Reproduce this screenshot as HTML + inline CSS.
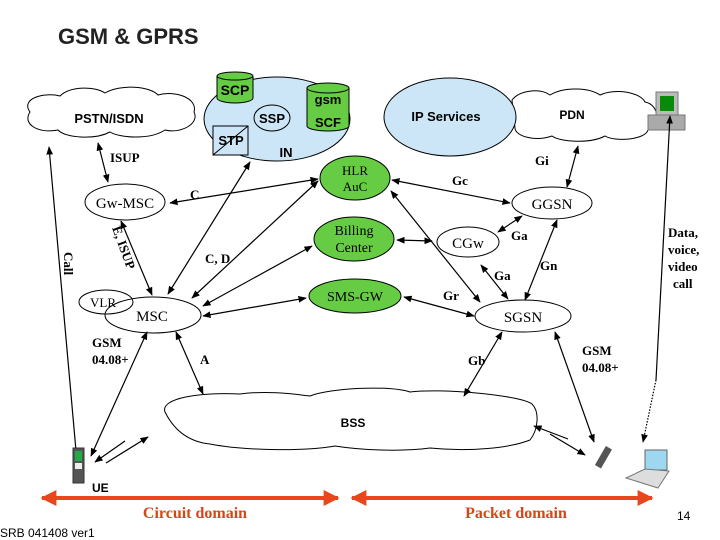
<!DOCTYPE html>
<html><head><meta charset="utf-8"><style>
html,body{margin:0;padding:0;background:#fff;width:720px;height:540px;overflow:hidden}
svg{display:block}
.s{font-family:"Liberation Sans",sans-serif;font-weight:bold}
.r{font-family:"Liberation Serif",serif}
</style></head><body>
<svg width="720" height="540" viewBox="0 0 720 540" xmlns="http://www.w3.org/2000/svg">
<defs>
<marker id="a" viewBox="0 0 10 10" refX="9" refY="5" markerWidth="7" markerHeight="7" orient="auto-start-reverse"><path d="M0,1 L10,5 L0,9 z" fill="#000"/></marker>
<marker id="ra" viewBox="0 0 10 10" refX="9" refY="5" markerWidth="4" markerHeight="4" orient="auto-start-reverse"><path d="M0,0 L10,5 L0,10 z" fill="#e8461c"/></marker>
</defs>
<text x="58" y="44" class="s" font-size="22" fill="#222">GSM &amp; GPRS</text>

<path d="M30,112 C20,98 45,92 60,96 C70,86 95,86 105,93 C120,84 150,86 158,95 C175,90 198,98 194,112 C200,124 180,134 165,130 C150,140 120,138 110,132 C95,140 65,138 58,130 C38,134 22,124 30,112 Z" fill="#fff" stroke="#000"/>
<text x="109" y="123" class="s" font-size="13" text-anchor="middle">PSTN/ISDN</text>

<ellipse cx="277" cy="119" rx="73" ry="42" fill="#cce6f7" stroke="#000"/>
<path d="M217,76 v22 a18,5 0 0 0 36,0 v-22" fill="#66cc44" stroke="#000"/>
<ellipse cx="235" cy="76" rx="18" ry="4" fill="#66cc44" stroke="#000"/>
<text x="235" y="95" class="s" font-size="14" text-anchor="middle">SCP</text>
<ellipse cx="272" cy="118" rx="18" ry="13" fill="#cce6f7" stroke="#000"/>
<text x="272" y="123" class="s" font-size="13" text-anchor="middle">SSP</text>
<path d="M307,88 v38 a21,5 0 0 0 42,0 v-38" fill="#66cc44" stroke="#000"/>
<ellipse cx="328" cy="88" rx="21" ry="5" fill="#66cc44" stroke="#000"/>
<text x="328" y="104" class="s" font-size="13" text-anchor="middle">gsm</text>
<text x="328" y="127" class="s" font-size="13" text-anchor="middle">SCF</text>
<rect x="213" y="126" width="35" height="29" fill="#cce6f7" stroke="#000"/>
<line x1="213" y1="155" x2="248" y2="126" stroke="#000"/>
<text x="231" y="145" class="s" font-size="13" text-anchor="middle">STP</text>
<text x="286" y="157" class="s" font-size="13" text-anchor="middle">IN</text>

<path d="M512,100 C520,90 540,88 550,95 C565,86 590,88 600,95 C615,88 640,92 645,102 C660,105 660,125 648,130 C645,140 615,142 605,136 C590,144 560,142 552,136 C535,142 515,136 515,128 Z" fill="#fff" stroke="#000"/>
<ellipse cx="450" cy="117" rx="66" ry="39" fill="#cce6f7" stroke="#000"/>
<text x="446" y="121" class="s" font-size="13" text-anchor="middle">IP Services</text>
<text x="572" y="119" class="s" font-size="12" text-anchor="middle">PDN</text>
<rect x="656" y="92" width="22" height="23" fill="#bbb" stroke="#777"/>
<rect x="660" y="96" width="14" height="15" fill="#0a8a0a"/>
<rect x="648" y="115" width="37" height="15" fill="#aaa" stroke="#777"/>

<ellipse cx="355" cy="178" rx="35" ry="22" fill="#66cc44" stroke="#000"/>
<text x="355" y="175" class="r" font-size="13" text-anchor="middle">HLR</text>
<text x="355" y="191" class="r" font-size="13" text-anchor="middle">AuC</text>
<ellipse cx="354" cy="239" rx="40" ry="22" fill="#66cc44" stroke="#000"/>
<text x="354" y="235" class="r" font-size="14" text-anchor="middle">Billing</text>
<text x="354" y="252" class="r" font-size="14" text-anchor="middle">Center</text>
<ellipse cx="355" cy="296" rx="46" ry="17" fill="#66cc44" stroke="#000"/>
<text x="355" y="301" class="r" font-size="14" text-anchor="middle">SMS-GW</text>
<ellipse cx="125" cy="202" rx="40" ry="18" fill="#fff" stroke="#000"/>
<text x="125" y="208" class="r" font-size="15" text-anchor="middle">Gw-MSC</text>
<ellipse cx="106" cy="302" rx="27" ry="12" fill="#fff" stroke="#000"/>
<ellipse cx="153" cy="315" rx="48" ry="18" fill="none" stroke="#000"/>
<text x="103" y="307" class="r" font-size="13" text-anchor="middle">VLR</text>
<text x="152" y="321" class="r" font-size="15" text-anchor="middle">MSC</text>
<ellipse cx="552" cy="203" rx="40" ry="16" fill="#fff" stroke="#000"/>
<text x="552" y="209" class="r" font-size="15" text-anchor="middle">GGSN</text>
<ellipse cx="468" cy="242" rx="31" ry="15" fill="#fff" stroke="#000"/>
<text x="468" y="248" class="r" font-size="15" text-anchor="middle">CGw</text>
<ellipse cx="523" cy="316" rx="48" ry="16" fill="#fff" stroke="#000"/>
<text x="523" y="322" class="r" font-size="15" text-anchor="middle">SGSN</text>

<path d="M165,412 C160,398 200,392 240,394 C270,390 300,395 310,396 C330,388 390,385 410,392 C440,388 520,395 532,404 C540,412 538,430 530,440 C510,448 470,452 430,448 C400,452 360,450 335,446 C300,452 240,450 210,444 C190,442 175,432 165,412 Z" fill="#fff" stroke="#000"/>
<text x="353" y="427" class="s" font-size="12" text-anchor="middle">BSS</text>

<g stroke="#000" stroke-width="1.2" fill="none" marker-start="url(#a)" marker-end="url(#a)">
<line x1="98" y1="143" x2="108" y2="182"/>
<line x1="170" y1="203" x2="318" y2="179"/>
<line x1="121" y1="221" x2="152" y2="295"/>
<line x1="168" y1="294" x2="250" y2="162"/>
<line x1="192" y1="298" x2="318" y2="181"/>
<line x1="203" y1="306" x2="312" y2="246"/>
<line x1="203" y1="316" x2="306" y2="298"/>
<line x1="392" y1="180" x2="510" y2="203"/>
<line x1="391" y1="191" x2="480" y2="302"/>
<line x1="397" y1="240" x2="432" y2="241"/>
<line x1="404" y1="297" x2="474" y2="316"/>
<line x1="498" y1="232" x2="522" y2="216"/>
<line x1="481" y1="265" x2="508" y2="299"/>
<line x1="525" y1="300" x2="557" y2="220"/>
<line x1="567" y1="187" x2="578" y2="146"/>
<line x1="49" y1="147" x2="77" y2="462"/>
<line x1="147" y1="332" x2="91" y2="456"/>
<line x1="176" y1="332" x2="203" y2="394"/>
<line x1="502" y1="332" x2="464" y2="396"/>
<line x1="555" y1="332" x2="594" y2="442"/>
</g>
<g stroke="#000" stroke-width="1.2" fill="none">
<line x1="656" y1="380" x2="670" y2="116" marker-end="url(#a)"/>
<line x1="656" y1="380" x2="643" y2="442" stroke-dasharray="1.5,1.5" marker-end="url(#a)"/>
<line x1="125" y1="441" x2="95" y2="462" marker-end="url(#a)"/>
<line x1="106" y1="463" x2="148" y2="437" marker-end="url(#a)"/>
<line x1="568" y1="439" x2="534" y2="426" marker-end="url(#a)"/>
<line x1="550" y1="434" x2="585" y2="455" marker-end="url(#a)"/>
</g>

<rect x="73" y="448" width="11" height="35" fill="#555" stroke="#333"/>
<rect x="75" y="451" width="7" height="10" fill="#2a4"/>
<rect x="75" y="463" width="7" height="6" fill="#eee"/>
<rect x="600" y="446" width="7" height="22" fill="#555" transform="rotate(30 603 457)"/>
<rect x="645" y="450" width="22" height="20" fill="#9dd8f0" stroke="#666"/>
<path d="M626,478 L645,469 L669,471 L658,488 Z" fill="#ddd" stroke="#777"/>

<g class="r" font-size="13" font-weight="bold">
<text x="110" y="162">ISUP</text>
<text x="190" y="199">C</text>
<text x="205" y="263">C, D</text>
<text x="200" y="364">A</text>
<text x="92" y="347">GSM</text>
<text x="92" y="364">04.08+</text>
<text x="452" y="185">Gc</text>
<text x="535" y="165">Gi</text>
<text x="511" y="240">Ga</text>
<text x="540" y="270">Gn</text>
<text x="494" y="280">Ga</text>
<text x="443" y="300">Gr</text>
<text x="468" y="365">Gb</text>
<text x="582" y="355">GSM</text>
<text x="582" y="372">04.08+</text>
<text x="668" y="237">Data,</text>
<text x="668" y="254">voice,</text>
<text x="668" y="271">video</text>
<text x="673" y="288">call</text>
<text transform="translate(64,252) rotate(90)">Call</text>
<text transform="translate(112,228) rotate(70)">E, ISUP</text>
</g>
<text x="92" y="492" class="s" font-size="12">UE</text>

<g stroke="#e8461c" stroke-width="4" marker-start="url(#ra)" marker-end="url(#ra)">
<line x1="42" y1="498" x2="338" y2="498"/>
<line x1="352" y1="498" x2="652" y2="498"/>
</g>
<text x="195" y="518" class="r" font-size="16" font-weight="bold" fill="#d9441c" text-anchor="middle">Circuit domain</text>
<text x="516" y="518" class="r" font-size="16" font-weight="bold" fill="#d9441c" text-anchor="middle">Packet domain</text>
<text x="677" y="520" font-family="Liberation Sans,sans-serif" font-size="12">14</text>
<text x="0" y="537" font-family="Liberation Sans,sans-serif" font-size="12">SRB 041408 ver1</text>
</svg>
</body></html>
